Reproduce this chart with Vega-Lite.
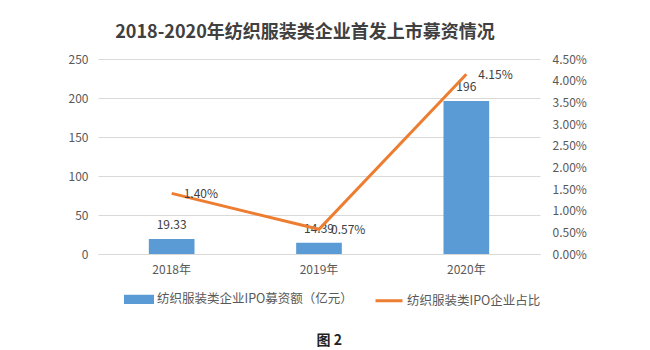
{
  "$schema": "https://vega.github.io/schema/vega-lite/v6.json",
  "background": "white",
  "padding": {"left": 68, "top": 24, "right": 5, "bottom": 5},
  "title": {"text": "图 2", "orient": "bottom", "anchor": "middle", "fontSize": 14, "fontWeight": "bold", "color": "#222222", "offset": 25, "dx": 2},
  "vconcat": [
    {
      "width": 442,
      "height": 195,
      "title": {"text": "2018-2020年纺织服装类企业首发上市募资情况", "fontSize": 18, "fontWeight": "bold", "color": "#404040", "offset": 11, "dx": -14},
      "data": {"values": [
        {"year": "2018年", "amount": 19.33, "ratio": 0.014, "barSeries": "纺织服装类企业IPO募资额（亿元）", "lineSeries": "纺织服装类IPO企业占比"},
        {"year": "2019年", "amount": 14.39, "ratio": 0.0057, "barSeries": "纺织服装类企业IPO募资额（亿元）", "lineSeries": "纺织服装类IPO企业占比"},
        {"year": "2020年", "amount": 196, "ratio": 0.0415, "barSeries": "纺织服装类企业IPO募资额（亿元）", "lineSeries": "纺织服装类IPO企业占比"}
      ]},
      "encoding": {
        "x": {"field": "year", "type": "ordinal", "sort": null,
          "scale": {"paddingInner": 0.69, "paddingOuter": 0.345},
          "axis": {"title": null, "labelAngle": 0, "ticks": false, "domainColor": "#D9D9D9", "labelPadding": 10}}
      },
      "layer": [
        {
          "encoding": {
            "y": {"field": "amount", "type": "quantitative",
              "scale": {"domain": [0, 250]},
              "axis": {"title": null, "values": [0, 50, 100, 150, 200, 250], "grid": true, "gridColor": "#D9D9D9", "domain": false, "ticks": false, "labelPadding": 10}}
          },
          "layer": [
            {
              "mark": {"type": "bar", "color": "#5B9BD5"},
              "encoding": {
                "color": {"field": "barSeries", "type": "nominal",
                  "scale": {"domain": ["纺织服装类企业IPO募资额（亿元）", "纺织服装类IPO企业占比"], "range": ["#5B9BD5", "#ED7D31"]},
                  "legend": {"orient": "none", "legendX": 26, "legendY": 225, "direction": "horizontal", "title": null, "symbolSize": 729, "columnPadding": 16, "labelOffset": 3, "labelLimit": 0, "labelFontSize": 12.5,
                    "encode": {"symbols": {"update": {
                      "shape": {"signal": "datum.value === '纺织服装类IPO企业占比' ? 'stroke' : 'M-1,-0.23H1V0.23H-1Z'"},
                      "fill": {"signal": "datum.value === '纺织服装类IPO企业占比' ? 'transparent' : '#5B9BD5'"},
                      "stroke": {"signal": "datum.value === '纺织服装类IPO企业占比' ? '#ED7D31' : 'transparent'"},
                      "strokeWidth": {"value": 3},
                      "opacity": {"value": 1}
                    }}}}
                }
              }
            },
            {
              "mark": {"type": "text", "dy": -14, "fontSize": 12, "color": "#404040"},
              "encoding": {"text": {"field": "amount", "type": "quantitative", "format": "~g"}}
            }
          ]
        },
        {
          "encoding": {
            "y": {"field": "ratio", "type": "quantitative",
              "scale": {"domain": [0, 0.045]},
              "axis": {"orient": "right", "title": null, "format": ".2%", "values": [0, 0.005, 0.01, 0.015, 0.02, 0.025, 0.03, 0.035, 0.04, 0.045], "grid": false, "domain": false, "ticks": false, "labelPadding": 12}}
          },
          "layer": [
            {
              "mark": {"type": "line", "strokeWidth": 3, "color": "#ED7D31"},
              "encoding": {"color": {"field": "lineSeries", "type": "nominal"}}
            },
            {
              "mark": {"type": "text", "align": "left", "dx": 12, "dy": 1, "fontSize": 12, "color": "#404040"},
              "encoding": {"text": {"field": "ratio", "type": "quantitative", "format": ".2%"}}
            }
          ]
        }
      ],
      "resolve": {"scale": {"y": "independent"}}
    }
  ],
  "config": {
    "font": "Noto Sans CJK SC",
    "view": {"stroke": null},
    "axis": {"labelFont": "Noto Sans CJK SC", "labelFontSize": 12, "labelColor": "#595959"},
    "legend": {"labelFont": "Noto Sans CJK SC", "labelFontSize": 12, "labelColor": "#595959"},
    "title": {"font": "Noto Sans CJK SC"}
  }
}
